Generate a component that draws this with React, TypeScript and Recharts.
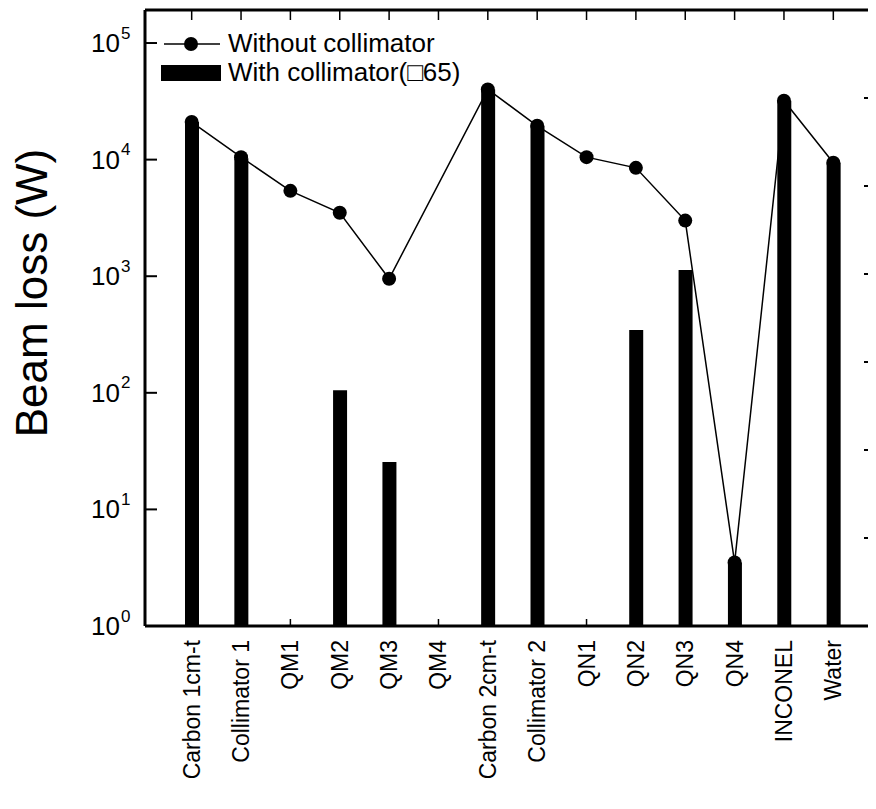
import React from 'react';
import {
  ComposedChart,
  Bar,
  Line,
  XAxis,
  YAxis,
  Legend,
} from 'recharts';

const categories = [
  'Carbon 1cm-t', 'Collimator 1', 'QM1', 'QM2', 'QM3', 'QM4', 'Carbon 2cm-t',
  'Collimator 2', 'QN1', 'QN2', 'QN3', 'QN4', 'INCONEL', 'Water',
];
const withoutCollimator = [21000, 10500, 5400, 3500, 950, null, 40000, 19500, 10500, 8500, 3000, 3.5, 32000, 9400];
const withCollimator = [21000, 10300, null, 105, 25.5, null, 40000, 19500, null, 345, 1130, 3.5, 32000, 9400];
const yTicks = [1, 10, 100, 1000, 10000, 100000];
const rightTicks = [1, 2, 3, 4, 5, 6];

const data = categories.map((name, i) => ({
  name,
  without: withoutCollimator[i],
  with: withCollimator[i],
}));

const FONT = '"Liberation Sans", Arial, Helvetica, sans-serif';

const LogTick = (props: any) => {
  const { x, y, payload } = props;
  const exp = Math.round(Math.log10(payload.value));
  return (
    <g>
      <line x1={x + 9} x2={x + 21} y1={y} y2={y} stroke="#000" strokeWidth={2} />
      <text x={x - 16} y={y} textAnchor="end" dominantBaseline="central" fontSize={26} fontFamily={FONT} fill="#000">
        10
      </text>
      <text x={x - 15} y={y - 10} textAnchor="start" dominantBaseline="central" fontSize={17} fontFamily={FONT} fill="#000">
        {exp}
      </text>
    </g>
  );
};

const BottomTick = (props: any) => {
  const { x, y, payload } = props;
  return (
    <g>
      <line x1={x} x2={x} y1={y} y2={y - 7} stroke="#000" strokeWidth={1.5} />
      <text
        x={x}
        y={y + 14}
        transform={`rotate(-90 ${x} ${y + 14})`}
        textAnchor="end"
        dominantBaseline="central"
        fontSize={23}
        fontFamily={FONT}
        fill="#000"
      >
        {payload.value}
      </text>
    </g>
  );
};

const TopTick = (props: any) => {
  const { x, y } = props;
  return <line x1={x} x2={x} y1={y} y2={y + 10} stroke="#000" strokeWidth={1.5} />;
};

const RightTick = (props: any) => {
  const { x, y } = props;
  return <line x1={x - 16} x2={x} y1={y} y2={y} stroke="#000" strokeWidth={2} />;
};

const LegendBox = () => (
  <div style={{ fontFamily: FONT, fontSize: 26, color: '#000', lineHeight: '29px' }}>
    <div style={{ display: 'flex', alignItems: 'center' }}>
      <svg width={64} height={20}>
        <line x1={4} x2={60} y1={10} y2={10} stroke="#000" strokeWidth={1.5} />
        <circle cx={31} cy={10} r={7} fill="#000" />
      </svg>
      <span style={{ marginLeft: 4 }}>Without collimator</span>
    </div>
    <div style={{ display: 'flex', alignItems: 'center' }}>
      <svg width={64} height={20}>
        <rect x={1} y={2} width={60} height={16} fill="#000" />
      </svg>
      <span style={{ marginLeft: 4 }}>With collimator(□65)</span>
    </div>
  </div>
);

export default function App() {
  return (
    <div style={{ width: 868, height: 793, overflow: 'hidden', background: '#fff' }}>
      <ComposedChart
        width={880}
        height={793}
        data={data}
        margin={{ top: 0, right: 0, bottom: 0, left: 0 }}
      >
        <XAxis
          dataKey="name"
          orientation="bottom"
          height={175}
          padding={{ left: 22, right: 22 }}
          axisLine={{ stroke: '#000', strokeWidth: 3 }}
          tickLine={false}
          tickSize={0}
          tickMargin={0}
          interval={0}
          tick={<BottomTick />}
        />
        <XAxis
          xAxisId="top"
          dataKey="name"
          orientation="top"
          height={2}
          padding={{ left: 22, right: 22 }}
          axisLine={{ stroke: '#000', strokeWidth: 3 }}
          tickLine={false}
          tickSize={0}
          tickMargin={0}
          interval={0}
          tick={<TopTick />}
        />
        <YAxis
          type="number"
          scale="log"
          domain={[1, 192000]}
          allowDataOverflow
          ticks={yTicks}
          width={137}
          axisLine={{ stroke: '#000', strokeWidth: 3 }}
          tickLine={false}
          tickSize={0}
          tickMargin={9}
          tick={<LogTick />}
          label={{
            content: () => (
              <text
                x={23}
                y={285}
                transform="rotate(-90 23 285)"
                textAnchor="middle"
                dominantBaseline="central"
                fontSize={44}
                fontFamily={FONT}
                fill="#000"
              >
                Beam loss (W)
              </text>
            ),
          }}
        />
        <YAxis
          yAxisId="right"
          orientation="right"
          type="number"
          domain={[0, 7]}
          allowDataOverflow
          ticks={rightTicks}
          width={8}
          axisLine={{ stroke: '#000', strokeWidth: 3 }}
          tickLine={false}
          tickSize={0}
          tickMargin={0}
          tick={<RightTick />}
        />
        <Legend
          layout="horizontal"
          verticalAlign="middle"
          align="center"
          content={() => <LegendBox />}
          wrapperStyle={{ position: 'absolute', left: 152, top: 21, width: 'auto' }}
        />
        <Bar dataKey="with" name="With collimator(□65)" fill="#000" barSize={14} isAnimationActive={false} />
        <Line
          type="linear"
          dataKey="without"
          name="Without collimator"
          stroke="#000"
          strokeWidth={1.5}
          dot={{ r: 7, fill: '#000', stroke: '#000', strokeWidth: 0 }}
          activeDot={false}
          connectNulls
          isAnimationActive={false}
        />
        {/* invisible series so the right-hand frame axis gets its ticks */}
        <Line
          yAxisId="right"
          dataKey="without"
          stroke="none"
          dot={false}
          activeDot={false}
          legendType="none"
          isAnimationActive={false}
        />
      </ComposedChart>
    </div>
  );
}
